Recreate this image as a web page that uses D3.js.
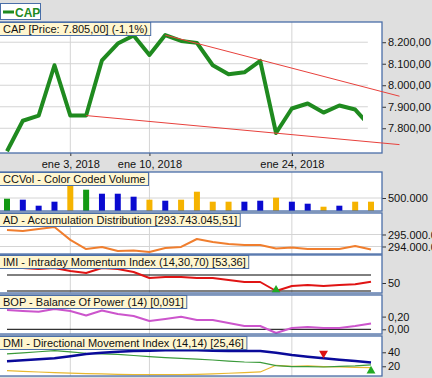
<!DOCTYPE html>
<html>
<head>
<meta charset="utf-8">
<script src="https://cdn.jsdelivr.net/npm/d3@7"></script>
<style>
    body { margin: 0; background: #dfdfdf; }
    svg { display: block; font-family: "Liberation Sans", Arial, sans-serif; font-size: 11px; }
</style>
</head>
<body>
<svg id="chart" width="432" height="378"></svg>
<script>
// trading days shown on the chart
const dates = ['2017-12-27', '2017-12-28', '2017-12-29', '2018-01-02', '2018-01-03', '2018-01-04',
    '2018-01-05', '2018-01-08', '2018-01-09', '2018-01-10', '2018-01-11', '2018-01-12',
    '2018-01-15', '2018-01-17', '2018-01-18', '2018-01-19', '2018-01-22', '2018-01-23',
    '2018-01-24', '2018-01-25', '2018-01-26', '2018-01-29', '2018-01-30', '2018-01-31'];
const dateTicks = ['2018-01-03', '2018-01-10', '2018-01-24'];

const price = [7693, 7835, 7859, 8093, 7859, 7859, 8116, 8194, 8231, 8141, 8233, 8206,
    8197, 8093, 8051, 8060, 8113, 7778, 7892, 7915, 7873, 7906, 7887, 7805];
const priceChange = -1.1;
const priceTicks = [7800, 7900, 8000, 8100, 8200];

// trend lines: [day index, price]
const trendUpper = [[10, 8233], [24.8, 7949]];
const trendLower = [[5, 7859], [24.8, 7724]];

const volume = [473000, 435000, 204000, 358000, 1000000, 819000, 665000, 665000, 550000, 435000,
    396000, 435000, 742000, 358000, 358000, 358000, 396000, 512000, 358000, 281000,
    165000, 204000, 358000, 358000];
const volumeColor = ['g', 'b', 'b', 'b', 'o', 'g', 'b', 'b', 'b', 'o', 'b', 'o',
    'o', 'o', 'o', 'b', 'b', 'o', 'b', 'b', 'o', 'b', 'o', 'o'];
const volumeTicks = [500000];

const accDist = [295.375, 295.29, 295.46, 295.625, 294.55, 293.79, 293.96, 293.625, 293.67, 293.54,
    293.875, 293.96, 294.625, 294.375, 294.21, 294.125, 294.125, 293.83, 293.92, 293.79,
    293.79, 293.79, 294.04, 293.743].map(d => d * 1e6);
const accDistLast = 293743045.51;
const accDistTicks = [294e6, 295e6];

const imi = [88, 87.5, 85, 87.5, 80, 75, 87.5, 85, 77.5, 62.5, 65, 65,
    62.5, 62.5, 57.5, 52.5, 52.5, 30, 42.5, 45, 42.5, 45, 46.75, 53.36];
const imiLevels = [30, 70];
const imiTicks = [50];
const imiBuy = [17];

const bop = [0.305, 0.29, 0.278, 0.32, 0.289, 0.218, 0.297, 0.241, 0.21, 0.131, 0.163, 0.199,
    0.147, 0.147, 0.1, 0.052, 0.052, -0.058, 0.021, 0.036, 0.021, 0.021, 0.052, 0.091];
const bopTicks = [0, 0.2];

const adx = [27.1, 28.5, 30, 31.4, 34.5, 37.6, 39.5, 40.9, 41.7, 42.3, 43, 43.3,
    43, 42.3, 42, 42, 41.9, 39.5, 36.1, 33.5, 31.4, 29.5, 27.6, 25.46];
const plusDI = [37.6, 39.2, 40.8, 42.3, 40.5, 38.6, 37.8, 37.1, 35.4, 33.7, 32.5, 31.4,
    30.2, 29, 27.5, 26.1, 25.7, 20.9, 19.4, 19.5, 19, 20, 20.5, 22];
const minusDI = [13.7, 12.8, 11.8, 10.9, 10.2, 9.6, 9, 8.5, 8, 8, 8, 8,
    8.5, 9.2, 10, 11, 11.9, 21.4, 20, 20.5, 19.5, 19, 18.5, 18];
const dmiTicks = [20, 40];
const dmiSell = [20];
const dmiBuy = [23];

//____________________________________________________________
//
const locale = d3.formatLocale({ decimal: ',', thousands: '.', grouping: [3], currency: ['$', ''], minus: '-' });
const timeLocale = d3.timeFormatLocale({
    dateTime: '%x %X', date: '%d/%m/%Y', time: '%H:%M:%S', periods: ['AM', 'PM'],
    days: ['domingo', 'lunes', 'martes', 'miércoles', 'jueves', 'viernes', 'sábado'],
    shortDays: ['dom', 'lun', 'mar', 'mié', 'jue', 'vie', 'sáb'],
    months: ['enero', 'febrero', 'marzo', 'abril', 'mayo', 'junio', 'julio', 'agosto',
        'septiembre', 'octubre', 'noviembre', 'diciembre'],
    shortMonths: ['ene', 'feb', 'mar', 'abr', 'may', 'jun', 'jul', 'ago', 'sep', 'oct', 'nov', 'dic']
});
const parseDate = d3.timeParse('%Y-%m-%d');
const formatDate = timeLocale.format('%b %-d, %Y');

const BORDER = '#4a6ea8';
const GRID = '#d4d4d4';
const RIGHT = 382;

const svg = d3.select('#chart');
const x = d3.scaleLinear().domain([0, dates.length - 1]).range([7, 371]);

//____________________________________________________________
//
function makePanel(top, bottom, domain, ticks, fmt, hGrid) {
    const y = d3.scaleLinear().domain(domain).range([bottom, top]);
    const g = svg.append('g');

    g.append('rect')
        .attr('x', -2).attr('y', top)
        .attr('width', RIGHT + 2).attr('height', bottom - top)
        .attr('fill', '#fff');

    g.append('g')
        .selectAll('line')
        .data(dateTicks)
        .join('line')
        .attr('x1', d => x(dates.indexOf(d))).attr('x2', d => x(dates.indexOf(d)))
        .attr('y1', top).attr('y2', bottom)
        .attr('stroke', GRID);

    if (hGrid) {
        g.append('g')
            .selectAll('line')
            .data(ticks)
            .join('line')
            .attr('x1', 0).attr('x2', hGrid)
            .attr('y1', d => y(d)).attr('y2', d => y(d))
            .attr('stroke', GRID);
    }

    const axis = svg.append('g')
        .attr('transform', `translate(${RIGHT},0)`)
        .call(d3.axisRight(y).tickValues(ticks).tickSize(4).tickPadding(2).tickFormat(fmt));
    axis.select('.domain').remove();
    axis.selectAll('line').attr('stroke', '#333');
    axis.selectAll('text').attr('fill', '#111').attr('font-size', 11).attr('font-family', null);

    return { g, y, top, bottom };
}

function drawBorder(p) {
    svg.append('rect')
        .attr('x', -2).attr('y', p.top)
        .attr('width', RIGHT + 2).attr('height', p.bottom - p.top)
        .attr('fill', 'none')
        .attr('stroke', BORDER)
        .attr('stroke-width', 1.3);
}

function drawLabel(top, label) {
    const g = svg.append('g');
    const rect = g.append('rect');
    const text = g.append('text')
        .attr('x', 3).attr('y', top + 10.5)
        .attr('fill', '#111')
        .text(label);
    const w = text.node().getComputedTextLength();
    rect.attr('x', -1).attr('y', top + 0.5)
        .attr('width', w + 7).attr('height', 13)
        .attr('fill', '#fff6cf')
        .attr('stroke', BORDER);
}

function drawLine(p, values, color, width) {
    p.g.append('path')
        .datum(values)
        .attr('fill', 'none')
        .attr('stroke', color)
        .attr('stroke-width', width)
        .attr('stroke-linejoin', 'round')
        .attr('d', d3.line().x((d, i) => x(i)).y(d => p.y(d)));
}

function drawLevel(p, v, color) {
    p.g.append('line')
        .attr('x1', x(0)).attr('x2', x(dates.length - 1))
        .attr('y1', p.y(v)).attr('y2', p.y(v))
        .attr('stroke', color);
}

function drawMarker(p, idx, values, color, down, offset) {
    p.g.selectAll(null)
        .data(idx)
        .join('path')
        .attr('d', d3.symbol(d3.symbolTriangle, 34))
        .attr('fill', color)
        .attr('transform', i => `translate(${x(i)},${p.y(values[i]) + offset}) rotate(${down ? 180 : 0})`);
}

//____________________________________________________________
// price panel
const main = makePanel(22, 153, [7685, 8294], priceTicks, locale.format(',.2f'), x(22.8));

svg.append('clipPath').attr('id', 'clip-main')
    .append('rect').attr('x', 0).attr('y', 22).attr('width', x(22.5)).attr('height', 131);

main.g.append('path')
    .datum(price)
    .attr('clip-path', 'url(#clip-main)')
    .attr('fill', 'none')
    .attr('stroke', '#1f8a1f')
    .attr('stroke-width', 4)
    .attr('stroke-linejoin', 'round')
    .attr('d', d3.line().x((d, i) => x(i)).y(d => main.y(d)));

const xAxis = svg.append('g')
    .attr('transform', 'translate(0,153)')
    .call(d3.axisBottom(x)
        .tickValues(dateTicks.map(d => dates.indexOf(d)))
        .tickSize(3).tickPadding(4)
        .tickFormat(i => formatDate(parseDate(dates[i]))));
xAxis.select('.domain').remove();
xAxis.selectAll('line').attr('stroke', '#333');
xAxis.selectAll('text').attr('fill', '#111').attr('font-size', 11).attr('font-family', null);

drawBorder(main);

svg.selectAll(null)
    .data([trendUpper, trendLower])
    .join('path')
    .attr('fill', 'none')
    .attr('stroke', '#e8413c')
    .attr('stroke-width', 1)
    .attr('d', d3.line().x(d => x(d[0])).y(d => main.y(d[1])));

drawLabel(22, `CAP [Price: ${locale.format(',.2f')(price[price.length - 1])}] (${locale.format('.1f')(priceChange)}%)`);

// legend
const legend = svg.append('g');
legend.append('rect')
    .attr('x', 0.5).attr('y', 3.5).attr('width', 40).attr('height', 16)
    .attr('fill', '#fff').attr('stroke', BORDER);
legend.append('line')
    .attr('x1', 3).attr('x2', 14).attr('y1', 12).attr('y2', 12)
    .attr('stroke', '#1f8a1f').attr('stroke-width', 3);
legend.append('text')
    .attr('x', 15).attr('y', 16.5)
    .attr('fill', '#1f8a1f').attr('font-weight', 'bold').attr('font-size', 12)
    .text('CAP');

//____________________________________________________________
// color coded volume
const vol = makePanel(172, 211, [0, 1500000], volumeTicks, locale.format(',d'), RIGHT);
const volColors = { g: '#139913', b: '#0a0ad0', o: '#f5b300' };
vol.g.selectAll(null)
    .data(volume)
    .join('rect')
    .attr('x', (d, i) => x(i) - 3)
    .attr('y', d => vol.y(d))
    .attr('width', 6)
    .attr('height', d => vol.y(0) - vol.y(d))
    .attr('fill', (d, i) => volColors[volumeColor[i]]);
drawBorder(vol);
drawLabel(172, 'CCVol - Color Coded Volume');

//____________________________________________________________
// accumulation distribution
const ad = makePanel(213, 254, [293.375e6, 296.79e6], accDistTicks, locale.format(',d'), RIGHT);
drawLine(ad, accDist, '#f07e2e', 2);
drawBorder(ad);
drawLabel(213, `AD - Accumulation Distribution [${locale.format(',.2f')(accDistLast)}]`);

//____________________________________________________________
// intraday momentum index
const imiPanel = makePanel(255, 293, [25, 120], imiTicks, locale.format('d'), null);
imiLevels.forEach(v => drawLevel(imiPanel, v, '#000'));
drawLine(imiPanel, imi, '#e01414', 2);
drawMarker(imiPanel, imiBuy, imi, '#22aa22', false, -1);
drawBorder(imiPanel);
drawLabel(255, `IMI - Intraday Momentum Index (14,30,70) [${locale.format('.2f')(imi[imi.length - 1])}]`);

//____________________________________________________________
// balance of power
const bopPanel = makePanel(295, 334, [-0.074, 0.54], bopTicks, locale.format('.2f'), null);
drawLevel(bopPanel, 0, '#000');
drawLine(bopPanel, bop, '#cc55cc', 2);
drawBorder(bopPanel);
drawLabel(295, `BOP - Balance Of Power (14) [${locale.format('.3f')(bop[bop.length - 1])}]`);

//____________________________________________________________
// directional movement index
const dmi = makePanel(336, 376, [6.1, 63.3], dmiTicks, locale.format('d'), null);
drawLine(dmi, minusDI, '#e8b830', 1.2);
drawLine(dmi, plusDI, '#3a9a3a', 1.2);
drawLine(dmi, adx, '#0a0a9a', 2.5);
drawMarker(dmi, dmiSell, adx, '#dd1111', true, -5);
drawMarker(dmi, dmiBuy, plusDI, '#22aa22', false, 6);
drawBorder(dmi);
drawLabel(336, `DMI - Directional Movement Index (14,14) [${locale.format('.2f')(adx[adx.length - 1])}]`);
</script>
</body>
</html>
